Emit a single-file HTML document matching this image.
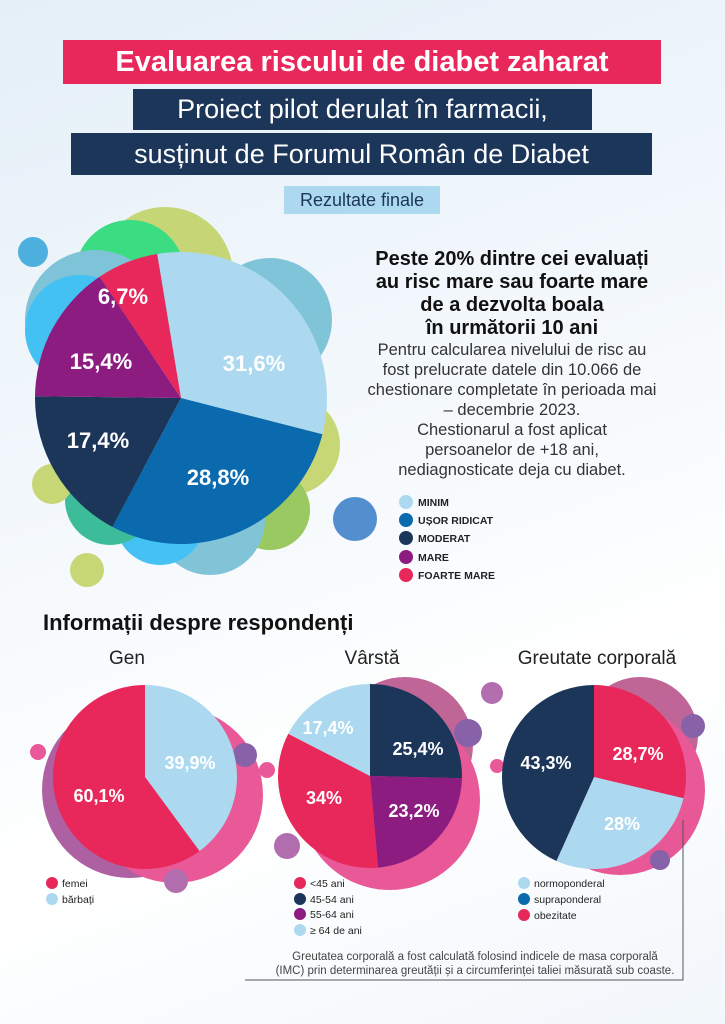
<!DOCTYPE html>
<html><head><meta charset="utf-8"><style>
html,body{margin:0;padding:0}
body{width:725px;height:1024px;overflow:hidden;background:linear-gradient(160deg,#e4eff8 0%,#f3f8fc 40%,#ffffff 70%,#f2f7fb 100%);font-family:"Liberation Sans",sans-serif;position:relative}
.abs{position:absolute}
.box{position:absolute;color:#fff;white-space:nowrap;text-align:center}
</style></head><body>
<div class="box" style="left:63px;top:40px;width:598px;height:44px;background:#e8285a;font-weight:bold;font-size:29px;line-height:44px">Evaluarea riscului de diabet zaharat</div>
<div class="box" style="left:133px;top:89px;width:459px;height:41px;background:#1c365a;font-size:27px;line-height:41px">Proiect pilot derulat în farmacii,</div>
<div class="box" style="left:71px;top:133px;width:581px;height:42px;background:#1c365a;font-size:27px;line-height:42px">susținut de Forumul Român de Diabet</div>
<div class="box" style="left:284px;top:186px;width:156px;height:28px;background:#acd9f0;color:#1c365a;font-size:18px;line-height:28px">Rezultate finale</div>

<svg class="abs" style="left:0;top:0" width="725" height="1024" id="s">
<g opacity="0.75">
<circle cx="33" cy="252" r="15" fill="#1a9ad6"/>
<circle cx="165" cy="275" r="68" fill="#b9cc4a"/>
<circle cx="130" cy="275" r="55" fill="#00d45a"/>
<circle cx="95" cy="320" r="70" fill="#5ab3cc"/>
<circle cx="80" cy="330" r="55" fill="#0ab0f0"/>
<circle cx="270" cy="320" r="62" fill="#5ab3cc"/>
<circle cx="290" cy="445" r="50" fill="#b9cc4a"/>
<circle cx="270" cy="510" r="40" fill="#7cb82e"/>
<circle cx="210" cy="520" r="55" fill="#5ab3cc"/>
<circle cx="160" cy="520" r="45" fill="#0ab0f0"/>
<circle cx="110" cy="500" r="45" fill="#00a87a"/>
<circle cx="52" cy="484" r="20" fill="#b9cc4a"/>
<circle cx="87" cy="570" r="17" fill="#b9cc4a"/>
<circle cx="313" cy="476" r="10" fill="#b9cc4a"/>
<circle cx="355" cy="519" r="22" fill="#1d6bbf"/>
</g>
<g opacity="0.8">
<circle cx="130" cy="790" r="88" fill="#9b3a8c"/>
<circle cx="175" cy="795" r="88" fill="#e5307e"/>
<circle cx="38" cy="752" r="8" fill="#e5307e"/>
<circle cx="245" cy="755" r="12" fill="#6a3c94"/>
<circle cx="176" cy="881" r="12" fill="#a04a9a"/>
<circle cx="405" cy="745" r="68" fill="#b0407e"/>
<circle cx="390" cy="800" r="90" fill="#e5307e"/>
<circle cx="468" cy="733" r="14" fill="#6a3c94"/>
<circle cx="267" cy="770" r="8" fill="#e5307e"/>
<circle cx="287" cy="846" r="13" fill="#a04a9a"/>
<circle cx="492" cy="693" r="11" fill="#a04a9a"/>
<circle cx="640" cy="735" r="58" fill="#b0407e"/>
<circle cx="620" cy="790" r="85" fill="#e5307e"/>
<circle cx="693" cy="726" r="12" fill="#6a3c94"/>
<circle cx="660" cy="860" r="10" fill="#6a3c94"/>
<circle cx="497" cy="766" r="7" fill="#e5307e"/>
</g>
<g id="pies"></g>
<g font-family="Liberation Sans,sans-serif" font-weight="bold" fill="#fff" font-size="22" text-anchor="middle">
<text x="123" y="304">6,7%</text>
<text x="101" y="369">15,4%</text>
<text x="254" y="371">31,6%</text>
<text x="98" y="448">17,4%</text>
<text x="218" y="485">28,8%</text>
<g font-size="18">
<text x="99" y="802">60,1%</text>
<text x="190" y="769">39,9%</text>
<text x="328" y="734">17,4%</text>
<text x="418" y="755">25,4%</text>
<text x="324" y="804">34%</text>
<text x="414" y="817">23,2%</text>
<text x="546" y="769">43,3%</text>
<text x="638" y="760">28,7%</text>
<text x="622" y="830">28%</text>
</g></g>
<g font-family="Liberation Sans,sans-serif" text-anchor="middle" fill="#111">
<g font-weight="900" font-size="20">
<text x="512" y="265">Peste 20% dintre cei evaluați</text>
<text x="512" y="288">au risc mare sau foarte mare</text>
<text x="512" y="311">de a dezvolta boala</text>
<text x="512" y="334">în următorii 10 ani</text>
</g>
<g font-size="16.5" fill="#333">
<text x="512" y="355">Pentru calcularea nivelului de risc au</text>
<text x="512" y="375">fost prelucrate datele din 10.066 de</text>
<text x="512" y="395">chestionare completate în perioada mai</text>
<text x="512" y="415">– decembrie 2023.</text>
<text x="512" y="435">Chestionarul a fost aplicat</text>
<text x="512" y="455">persoanelor de +18 ani,</text>
<text x="512" y="475">nediagnosticate deja cu diabet.</text>
</g>
<g font-size="19" fill="#222">
<text x="127" y="664">Gen</text>
<text x="372" y="664">Vârstă</text>
<text x="597" y="664">Greutate corporală</text>
</g>
<g font-size="11.5" fill="#444">
<text x="475" y="960">Greutatea corporală a fost calculată folosind indicele de masa corporală</text>
<text x="475" y="974">(IMC) prin determinarea greutății și a circumferinței taliei măsurată sub coaste.</text>
</g>
</g>
<text x="43" y="630" font-family="Liberation Sans,sans-serif" font-weight="900" font-size="22" fill="#111">Informații despre respondenți</text>
<g font-family="Liberation Sans,sans-serif" font-size="10.5" fill="#222">
<circle cx="406" cy="502" r="7" fill="#acd9f0"/><text x="418" y="506" font-weight="bold">MINIM</text>
<circle cx="406" cy="520" r="7" fill="#0a6aad"/><text x="418" y="524" font-weight="bold">UȘOR RIDICAT</text>
<circle cx="406" cy="538" r="7" fill="#1c365a"/><text x="418" y="542" font-weight="bold">MODERAT</text>
<circle cx="406" cy="557" r="7" fill="#8c1c80"/><text x="418" y="561" font-weight="bold">MARE</text>
<circle cx="406" cy="575" r="7" fill="#e8285a"/><text x="418" y="579" font-weight="bold">FOARTE MARE</text>
<circle cx="52" cy="883" r="6" fill="#e8285a"/><text x="62" y="887">femei</text>
<circle cx="52" cy="899" r="6" fill="#acd9f0"/><text x="62" y="903">bărbați</text>
<circle cx="300" cy="883" r="6" fill="#e8285a"/><text x="310" y="887">&lt;45 ani</text>
<circle cx="300" cy="899" r="6" fill="#1c365a"/><text x="310" y="903">45-54 ani</text>
<circle cx="300" cy="914" r="6" fill="#8c1c80"/><text x="310" y="918">55-64 ani</text>
<circle cx="300" cy="930" r="6" fill="#acd9f0"/><text x="310" y="934">≥ 64 de ani</text>
<circle cx="524" cy="883" r="6" fill="#acd9f0"/><text x="534" y="887">normoponderal</text>
<circle cx="524" cy="899" r="6" fill="#0a6aad"/><text x="534" y="903">supraponderal</text>
<circle cx="524" cy="915" r="6" fill="#e8285a"/><text x="534" y="919">obezitate</text>
</g>
<polyline points="683,820 683,980 245,980" fill="none" stroke="#555" stroke-width="1"/>
</svg>
<script>
var g=document.getElementById('pies'),NS='http://www.w3.org/2000/svg';
function pie(cx,cy,r,start,parts){var a=start*Math.PI/180;parts.forEach(function(p){var b=a+p[0]/100*2*Math.PI;
var x1=cx+r*Math.sin(a),y1=cy-r*Math.cos(a),x2=cx+r*Math.sin(b),y2=cy-r*Math.cos(b);
var e=document.createElementNS(NS,'path');e.setAttribute('d','M'+cx+','+cy+'L'+x1+','+y1+'A'+r+','+r+' 0 '+((b-a)>Math.PI?1:0)+' 1 '+x2+','+y2+'Z');e.setAttribute('fill',p[1]);g.appendChild(e);a=b;});}
pie(181,398,146,-9.4,[[31.6,'#acd9f0'],[28.8,'#0a6aad'],[17.4,'#1c365a'],[15.4,'#8c1c80'],[6.8,'#e8285a']]);
pie(145,777,92,0,[[39.9,'#acd9f0'],[60.1,'#e8285a']]);
pie(370,776,92,0,[[25.4,'#1c365a'],[23.2,'#8c1c80'],[34,'#e8285a'],[17.4,'#acd9f0']]);
pie(594,777,92,0,[[28.7,'#e8285a'],[28,'#acd9f0'],[43.3,'#1c365a']]);
</script>
</body></html>
